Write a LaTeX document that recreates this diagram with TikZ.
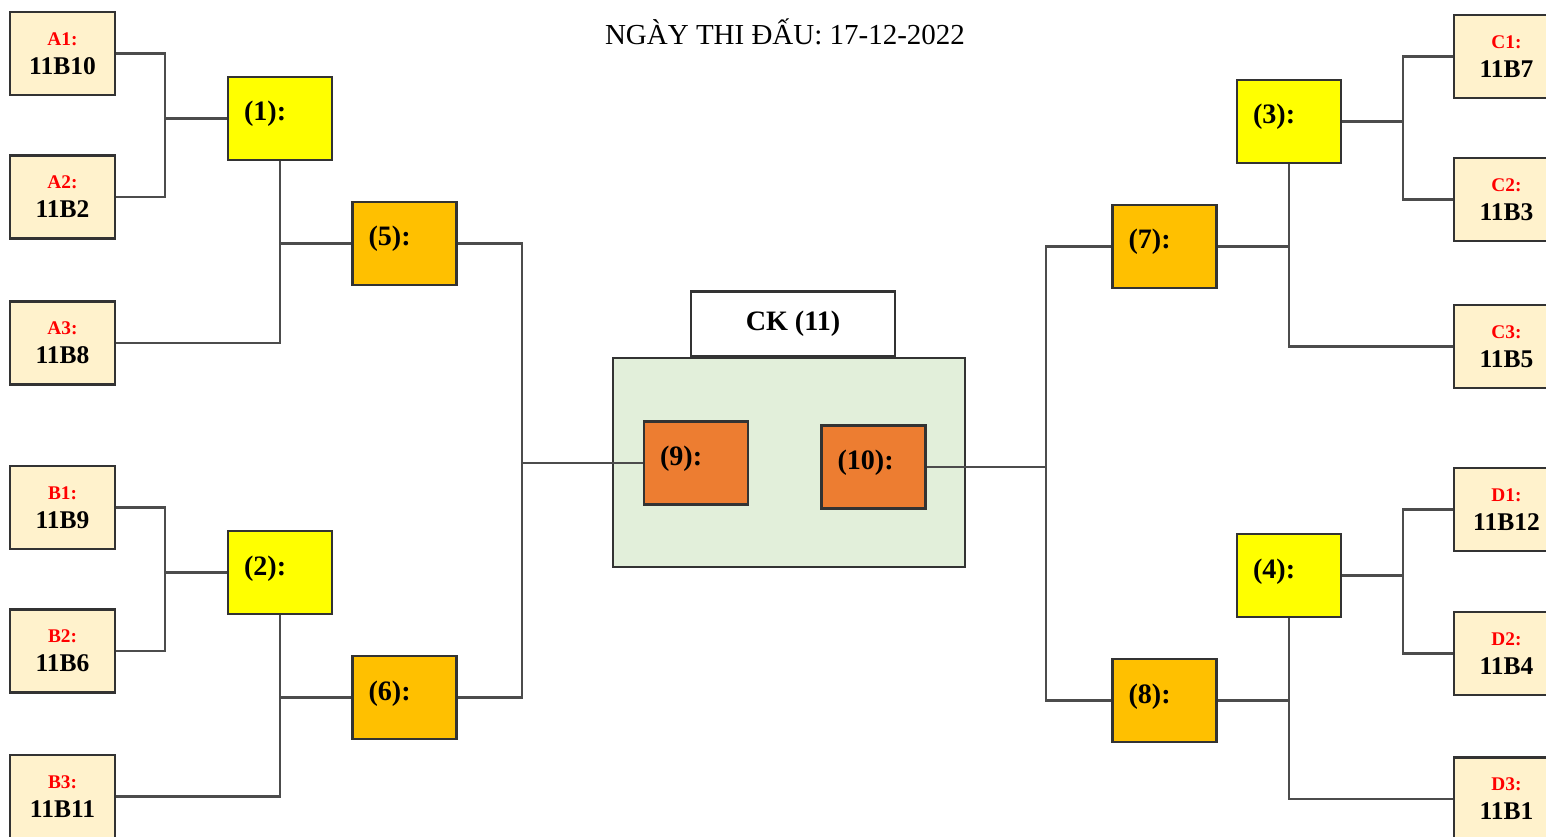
\documentclass[tikz,border=0pt]{standalone}
\usepackage{fontspec}
\setmainfont{Liberation Serif}
\usepackage{tikz}
\usetikzlibrary{positioning}
\definecolor{teamfill}{HTML}{FFF2CC}
\definecolor{roundone}{HTML}{FFFF00}
\definecolor{roundtwo}{HTML}{FFC000}
\definecolor{semifill}{HTML}{ED7D31}
\definecolor{finalfill}{HTML}{E2EFDA}
\tikzset{every picture/.style={line width=0.75pt}}
\tikzset{
  team/.style={draw=black!80,line width=1.3pt,fill=teamfill,minimum width=21mm,
    minimum height=16.6mm,align=center,inner sep=0pt,
    font=\fontsize{14.5}{16.5}\selectfont\bfseries},
  round/.style={draw=black!80,line width=1.3pt,minimum height=16.6mm,text width=14.4mm,
    inner xsep=3.2mm,inner ysep=0pt,align=left,text height=4mm,text depth=3mm,
    font=\fontsize{16}{18}\selectfont\bfseries},
  link/.style={draw=black!70,line width=1.4pt}
}
\newcommand{\grp}[1]{{\color{red}\fontsize{11}{12}\selectfont #1:}}

\begin{document}
\begin{tikzpicture}[x=0.2mm,y=-0.2mm]
\useasboundingbox (0,0) rectangle (1546,837);
%
\node[font=\fontsize{16.5}{18}\selectfont] (title) at (785,32) {NGÀY THI ĐẤU: 17-12-2022};
%
\node[team] (a1) at (62.5,53.5) {\grp{A1}\\11B10};
\node[team] (a2) at (62.5,197) {\grp{A2}\\11B2};
\node[team] (a3) at (62.5,343) {\grp{A3}\\11B8};
\node[team] (b1) at (62.5,507.5) {\grp{B1}\\11B9};
\node[team] (b2) at (62.5,651) {\grp{B2}\\11B6};
\node[team] (b3) at (62.5,796.5) {\grp{B3}\\11B11};
%
\node[team] (c1) at (1506.5,56.5) {\grp{C1}\\11B7};
\node[team] (c2) at (1506.5,199.5) {\grp{C2}\\11B3};
\node[team] (c3) at (1506.5,346.5) {\grp{C3}\\11B5};
\node[team] (d1) at (1506.5,509.5) {\grp{D1}\\11B12};
\node[team] (d2) at (1506.5,653.5) {\grp{D2}\\11B4};
\node[team] (d3) at (1506.5,799) {\grp{D3}\\11B1};
%
\node[round,fill=roundone] (r1) at (280,118.5) {(1):};
\node[round,fill=roundone] (r2) at (280,572.5) {(2):};
\node[round,fill=roundone] (r3) at (1289,121.5) {(3):};
\node[round,fill=roundone] (r4) at (1289,575.5) {(4):};
\node[round,fill=roundtwo] (r5) at (404.5,243.5) {(5):};
\node[round,fill=roundtwo] (r6) at (404.5,697.5) {(6):};
\node[round,fill=roundtwo] (r7) at (1164.5,246.5) {(7):};
\node[round,fill=roundtwo] (r8) at (1164.5,700.5) {(8):};
%
\node[draw=black!80,line width=1.3pt,fill=finalfill,minimum width=70.4mm,minimum height=41.8mm] (final) at (789,462.5) {};
\node[draw=black!80,line width=1.3pt,fill=white,minimum width=40.8mm,minimum height=13mm,
  font=\fontsize{16}{18}\selectfont\bfseries] (ck) at (793,324) {CK (11)};
\node[round,fill=semifill] (r9) at (696,463) {(9):};
\node[round,fill=semifill] (r10) at (873.5,467) {(10):};
%
\coordinate (jA) at (165,118.5);
\coordinate (jB) at (165,572.5);
\coordinate (jC) at (1403,121.5);
\coordinate (jD) at (1403,575.5);
\coordinate (jL) at (522,463);
\coordinate (jR) at (1046,467);
%
\foreach \Top/\Bot/\Third/\Joint/\First/\Second in {%
	a1/a2/a3/jA/r1/r5,
	b1/b2/b3/jB/r2/r6,
	c1/c2/c3/jC/r3/r7,
	d1/d2/d3/jD/r4/r8%
    }
{
\draw[link] (\Top) -| (\Joint) |- (\Bot);
\draw[link] (\Joint) -- (\First);
\draw[link] (\First) |- (\Third);
\draw[link] (\First.south |- \Second) -- (\Second);
}
%
\draw[link] (r5) -| (jL) |- (r6);
\draw[link] (jL) -- (r9);
\draw[link] (r7) -| (jR) |- (r8);
\draw[link] (jR) -- (r10);
\end{tikzpicture}
\end{document}
